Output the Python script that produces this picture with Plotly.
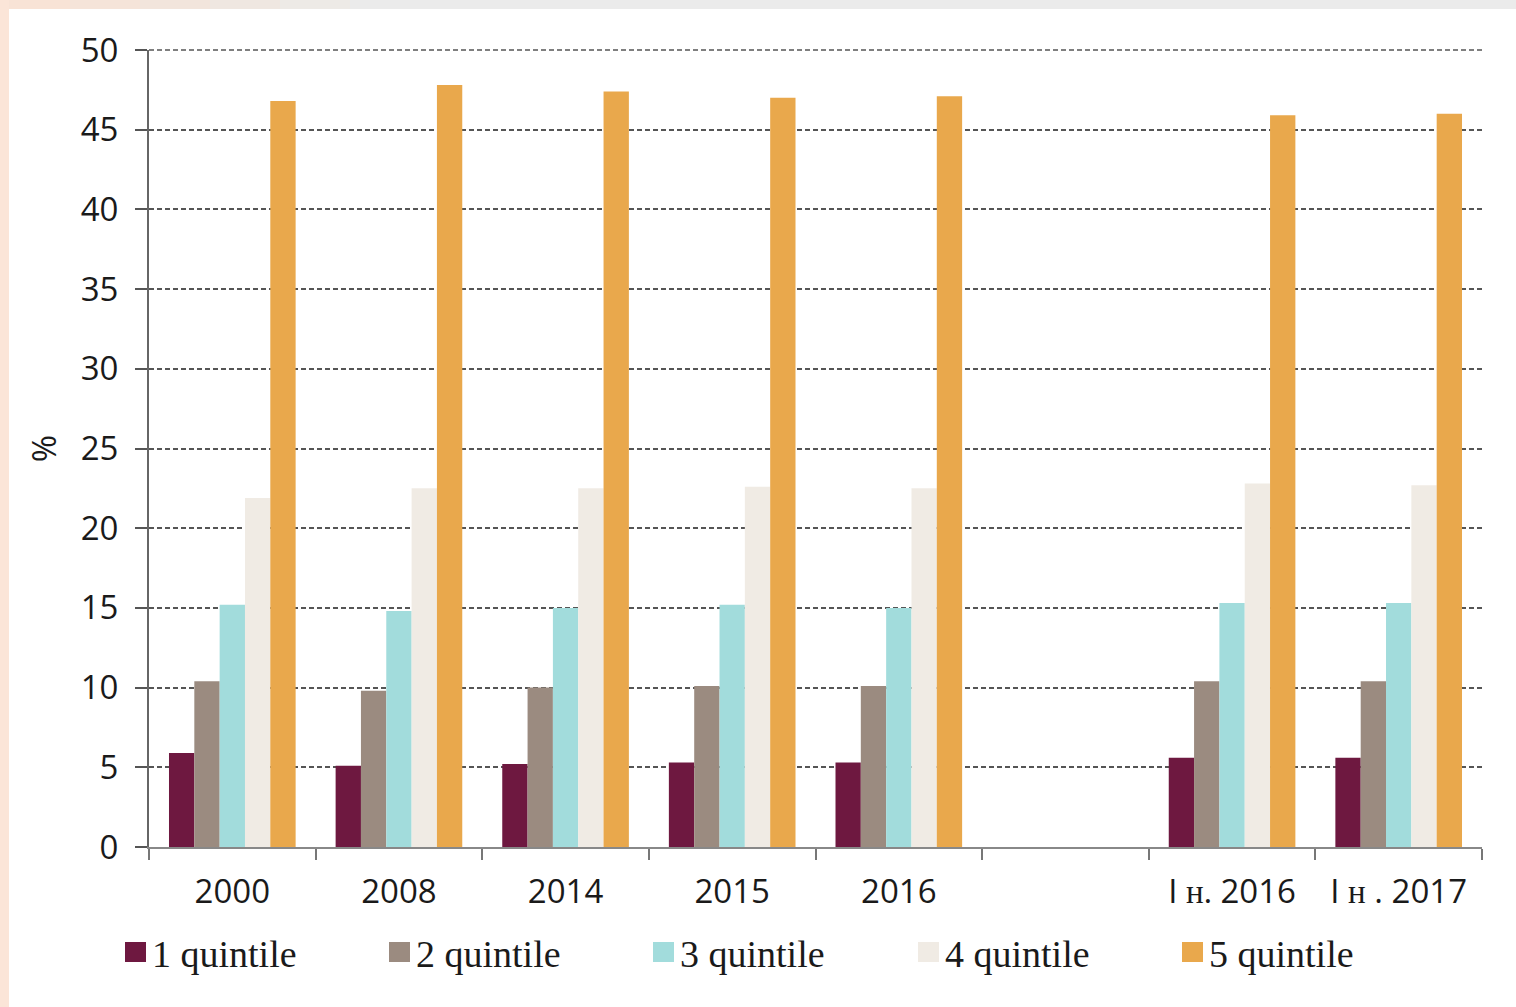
import plotly.graph_objects as go

# Income shares by quintile group, %
categories = ["2000", "2008", "2014", "2015", "2016", " ",
              "I <span style='font-family:Liberation Serif'>н.</span> 2016",
              "I <span style='font-family:Liberation Serif'>н</span> . 2017"]
series_names = ["1 quintile", "2 quintile", "3 quintile", "4 quintile", "5 quintile"]
q1 = [5.9, 5.1, 5.2, 5.3, 5.3, None, 5.6, 5.6]
q2 = [10.4, 9.8, 10.0, 10.1, 10.1, None, 10.4, 10.4]
q3 = [15.2, 14.8, 15.0, 15.2, 15.0, None, 15.3, 15.3]
q4 = [21.9, 22.5, 22.5, 22.6, 22.5, None, 22.8, 22.7]
q5 = [46.8, 47.8, 47.4, 47.0, 47.1, None, 45.9, 46.0]
colors = ["#6e1840", "#9b8b80", "#a2dcdc", "#f0ebe4", "#e9a84c"]
y_max = 50

W, H = 1516, 1007
ML, MR, MT, MB = 149, 34, 50, 160
PW, PH = W - ML - MR, H - MT - MB


def px_x(x):
    return (x - ML) / PW


def px_y(y):
    return (H - MB - y) / PH


fig = go.Figure()
for name, vals, col in zip(series_names, [q1, q2, q3, q4, q5], colors):
    fig.add_trace(go.Bar(x=categories, y=vals, name=name, marker_color=col,
                         marker_line_width=0, showlegend=False))

# Page frame tints: grey top band fading from peach on the left, peach left strip
shapes = [
    dict(type="rect", xref="paper", yref="paper", x0=px_x(0), x1=px_x(W),
         y0=px_y(0), y1=px_y(9), fillcolor="#ebebeb", line_width=0, layer="below"),
]
fade = ["#f8e3d6", "#f5e4d9", "#f2e5dc", "#efe7e1", "#edeae6"]
for i, c in enumerate(fade):
    shapes.append(dict(type="rect", xref="paper", yref="paper",
                       x0=px_x(i * 70), x1=px_x((i + 1) * 70),
                       y0=px_y(0), y1=px_y(9), fillcolor=c, line_width=0, layer="below"))
shapes.append(dict(type="rect", xref="paper", yref="paper", x0=px_x(0), x1=px_x(9),
                   y0=px_y(0), y1=px_y(H), fillcolor="#fbe5d8", line_width=0, layer="below"))

# Dashed gridline along the top edge of the plot (top of the value range)
shapes.append(dict(type="line", xref="paper", yref="paper", x0=0, x1=1, y0=1, y1=1,
                   line=dict(color="#555", width=1.5, dash="5px,3px"), layer="below"))

# Legend drawn as swatches + serif labels
annotations = []
leg_x = [125, 389, 653, 918, 1182]
leg_y = 952
for name, col, lx in zip(series_names, colors, leg_x):
    shapes.append(dict(type="rect", xref="paper", yref="paper",
                       x0=px_x(lx), x1=px_x(lx + 21),
                       y0=px_y(leg_y - 10), y1=px_y(leg_y + 10),
                       fillcolor=col, line_width=0))
    annotations.append(dict(xref="paper", yref="paper", x=px_x(lx + 25), y=px_y(leg_y + 2),
                            text=name, showarrow=False, xanchor="left", yanchor="middle",
                            font=dict(family="Liberation Serif", size=38, color="#1a1a1a")))

fig.update_layout(
    width=W, height=H,
    margin=dict(l=ML, r=MR, t=MT, b=MB),
    paper_bgcolor="white", plot_bgcolor="white",
    barmode="group", bargap=0.24, bargroupgap=0,
    shapes=shapes, annotations=annotations,
    font=dict(family="Open Sans", size=32, color="#1a1a1a"),
    xaxis=dict(type="category", showline=True, linecolor="#888", linewidth=2,
               ticks="outside", tickson="boundaries", ticklen=11, tickcolor="#777",
               tickwidth=2, showgrid=False, tickfont=dict(size=33),
               ticklabelstandoff=14),
    yaxis=dict(range=[0, y_max], dtick=5, showline=True, linecolor="#666", linewidth=2,
               ticks="outside", ticklen=12, tickcolor="#555", tickwidth=1.5,
               showgrid=True, gridcolor="#555", griddash="5px,3px", gridwidth=1.5,
               zeroline=False, ticklabelstandoff=10, tickfont=dict(size=33),
               title=dict(text="%", standoff=14, font=dict(size=33))),
)

fig.write_html("out.html")
